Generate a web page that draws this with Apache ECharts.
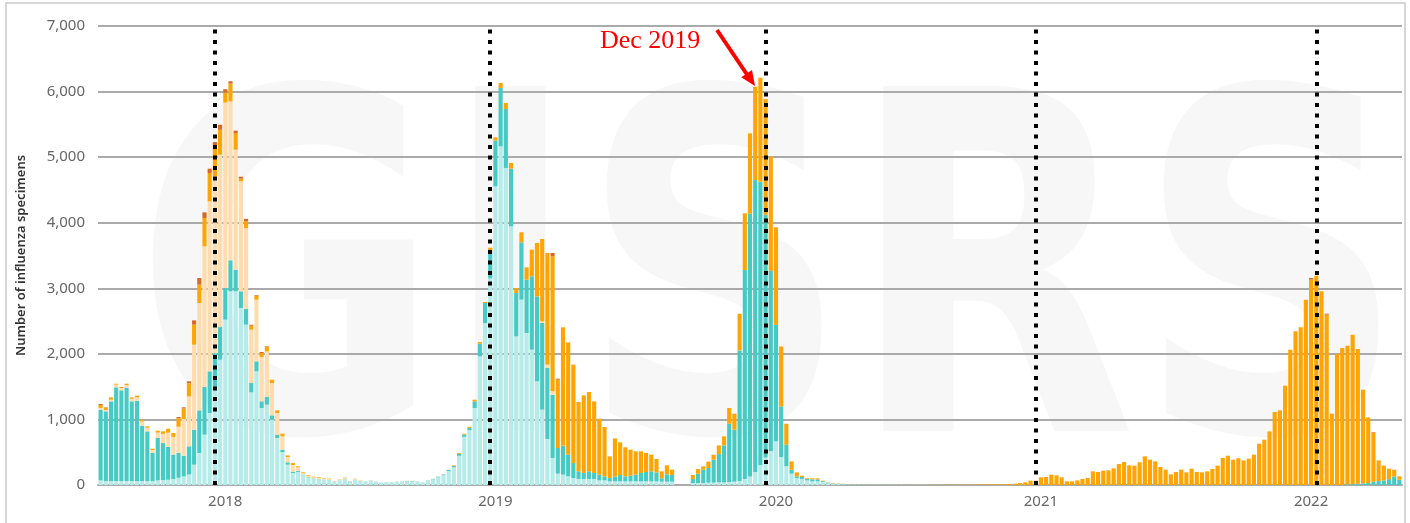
<!DOCTYPE html>
<html>
<head>
<meta charset="utf-8">
<title>Number of influenza specimens</title>
<script src="https://cdn.jsdelivr.net/npm/echarts@6/dist/echarts.min.js"></script>
<style>
  html, body { margin: 0; padding: 0; background: #fff; }
  #main { width: 1410px; height: 523px; }
</style>
</head>
<body>
<div id="main"></div>
<script>
// weekly counts, first bar = 2017 week 29, 251 weeks
const lightCyan = [
  70, 60, 60, 60, 60, 60, 60, 60, 60, 60,
  60, 70, 75, 80, 90, 110, 130, 160, 310, 488,
  768, 1098, 1450, 1911, 2522, 2954, 2954, 2700, 2445, 1413,
  1734, 1174, 1225, 996, 717, 503, 310, 183, 200, 150,
  110, 95, 90, 78, 75, 50, 66, 85, 50, 76,
  58, 50, 62, 45, 36, 40, 40, 45, 50, 58,
  58, 50, 36, 63, 86, 118, 150, 212, 270, 445,
  735, 835, 1174, 1962, 2471, 3150, 4555, 5165, 4835, 3945,
  2267, 2827, 2318, 2064, 1581, 1149, 702, 412, 173, 158,
  132, 107, 92, 92, 92, 92, 71, 71, 56, 56,
  56, 56, 56, 56, 56, 56, 56, 56, 51, 51,
  51, null, null, null, 30, 30, 30, 35, 35, 40,
  40, 45, 50, 60, 90, 130, 200, 300, 420, 513,
  666, 427, 285, 173, 107, 92, 71, 56, 56, 46,
  30, 20, 15, 12, 10, 8, 8, 7, 6, 6,
  5, 5, 5, 5, 5, 4, 4, 4, 4, 3,
  3, 3, 3, 2, 2, 2, 2, 2, 2, 1,
  1, 1, 1, 0, 0, 0, 0, 0, 0, 0,
  0, 0, 0, 0, 0, 0, 0, 0, 0, 0,
  0, 0, 0, 0, 0, 0, 0, 0, 0, 0,
  0, 0, 0, 0, 0, 0, 0, 0, 0, 0,
  0, 0, 0, 0, 0, 0, 0, 0, 0, 0,
  0, 0, 0, 0, 0, 0, 0, 0, 0, 0,
  0, 0, 0, 0, 0, 0, 0, 0, 0, 0,
  0, 0, 0, 0, 0, 0, 0, 0, 0, 0,
  0
];

const teal = [
  1080, 1064, 1216, 1430, 1384, 1420, 1216, 1226, 845, 758,
  428, 647, 565, 500, 373, 378, 317, 430, 534, 651,
  727, 635, 560, 498, 483, 473, 330, 254, 239, 142,
  152, 102, 117, 66, 51, 36, 36, 20, 15, 10,
  8, 6, 5, 4, 4, 3, 4, 5, 3, 4,
  3, 3, 4, 3, 3, 3, 3, 3, 3, 4,
  4, 3, 3, 5, 7, 10, 12, 16, 20, 30,
  35, 35, 102, 193, 305, 420, 697, 890, 900, 880,
  661, 874, 813, 1119, 1296, 1322, 1083, 966, 391, 442,
  330, 229, 117, 92, 117, 92, 86, 61, 50, 70,
  97, 76, 86, 102, 127, 142, 153, 137, 51, 112,
  102, null, null, null, 61, 142, 203, 224, 351, 432,
  564, 890, 793, 1993, 3190, 4010, 4450, 4326, 3700, 2752,
  1776, 771, 329, 60, 25, 30, 20, 30, 30, 12,
  6, 5, 5, 4, 3, 3, 2, 2, 2, 2,
  2, 2, 2, 1, 1, 1, 1, 1, 1, 1,
  1, 1, 1, 1, 1, 1, 1, 1, 1, 1,
  1, 1, 1, 0, 0, 0, 0, 0, 0, 0,
  0, 0, 0, 0, 0, 0, 0, 0, 0, 0,
  0, 0, 0, 0, 0, 0, 0, 0, 0, 0,
  0, 0, 0, 0, 0, 0, 0, 0, 0, 0,
  0, 0, 0, 0, 0, 0, 0, 0, 0, 0,
  0, 0, 0, 0, 0, 0, 0, 0, 0, 0,
  0, 0, 0, 0, 0, 0, 0, 0, 0, 0,
  10, 15, 20, 25, 30, 50, 60, 70, 90, 130,
  80
];

const peach = [
  25, 20, 25, 40, 35, 45, 40, 50, 65, 55,
  45, 82, 140, 219, 270, 400, 560, 760, 1296, 1637,
  2145, 2593, 2700, 2628, 2827, 2425, 1830, 1678, 1235, 813,
  940, 676, 696, 493, 330, 203, 81, 102, 55, 28,
  25, 18, 17, 12, 12, 6, 12, 16, 6, 13,
  8, 3, 5, 3, 2, 3, 3, 3, 3, 4,
  4, 3, 2, 3, 4, 4, 6, 6, 0, 0,
  0, 0, 0, 0, 0, 0, 0, 0, 0, 0,
  0, 0, 0, 0, 0, 25, 51, 51, 0, 0,
  0, 0, 0, 0, 0, 0, 0, 0, 0, 0,
  0, 0, 0, 0, 0, 0, 0, 0, 0, 0,
  0, null, null, null, 0, 0, 0, 0, 0, 0,
  0, 0, 0, 0, 0, 0, 0, 0, 0, 0,
  0, 0, 0, 0, 0, 0, 0, 0, 0, 0,
  0, 0, 0, 0, 0, 0, 0, 0, 0, 0,
  0, 0, 0, 0, 0, 0, 0, 0, 0, 0,
  0, 0, 0, 0, 0, 0, 0, 0, 0, 0,
  0, 0, 0, 0, 0, 0, 0, 0, 0, 0,
  0, 0, 0, 0, 0, 0, 0, 0, 0, 0,
  0, 0, 0, 0, 0, 0, 0, 0, 0, 0,
  0, 0, 0, 0, 0, 0, 0, 0, 0, 0,
  0, 0, 0, 0, 0, 0, 0, 0, 0, 0,
  0, 0, 0, 0, 0, 0, 0, 0, 0, 0,
  0, 0, 0, 0, 0, 0, 0, 0, 0, 0,
  0, 0, 0, 0, 0, 0, 0, 0, 0, 0,
  0
];

const orange = [
  45, 35, 36, 15, 16, 20, 21, 26, 26, 22,
  21, 30, 39, 60, 60, 129, 160, 200, 305, 280,
  432, 432, 450, 381, 153, 270, 254, 40, 100, 61,
  61, 61, 66, 51, 41, 41, 25, 30, 15, 10,
  10, 8, 10, 8, 6, 2, 4, 6, 2, 4,
  2, 0, 0, 0, 0, 0, 0, 0, 0, 0,
  0, 0, 0, 0, 0, 0, 0, 0, 10, 13,
  13, 15, 25, 25, 15, 50, 51, 76, 92, 86,
  76, 153, 188, 407, 813, 1256, 1703, 2059, 1042, 1805,
  1713, 1500, 1057, 1184, 1209, 1092, 854, 753, 331, 585,
  498, 443, 397, 356, 331, 290, 254, 204, 106, 137,
  81, null, null, null, 61, 71, 51, 97, 76, 132,
  137, 239, 244, 559, 864, 1223, 1423, 1585, 1766, 1743,
  1489, 914, 320, 127, 61, 20, 11, 16, 16, 8,
  5, 5, 3, 3, 2, 2, 2, 2, 2, 2,
  2, 2, 2, 2, 2, 2, 2, 2, 2, 2,
  3, 3, 3, 4, 4, 5, 5, 6, 6, 8,
  8, 10, 10, 10, 12, 15, 20, 30, 41, 66,
  66, 117, 122, 158, 147, 117, 56, 56, 71, 92,
  107, 208, 198, 219, 224, 254, 320, 351, 300, 295,
  346, 437, 386, 361, 275, 234, 163, 198, 234, 193,
  249, 198, 193, 208, 244, 295, 412, 447, 386, 407,
  376, 402, 463, 630, 691, 818, 1113, 1139, 1515, 2064,
  2344, 2405, 2827, 3132, 3190, 2954, 2598, 1088, 1998, 2090,
  2115, 2278, 2054, 1429, 1002, 743, 316, 225, 159, 104,
  52
];

const brown = [
  15, 6, 0, 0, 0, 0, 0, 0, 0, 0,
  0, 0, 0, 0, 0, 20, 18, 31, 66, 100,
  86, 66, 70, 76, 51, 36, 36, 30, 40, 15,
  10, 15, 10, 0, 0, 0, 0, 0, 0, 0,
  0, 0, 0, 0, 0, 0, 0, 0, 0, 0,
  0, 0, 0, 0, 0, 0, 0, 0, 0, 0,
  0, 0, 0, 0, 0, 0, 0, 0, 0, 0,
  0, 0, 0, 0, 0, 0, 0, 0, 0, 0,
  0, 0, 0, 0, 0, 0, 0, 51, 15, 0,
  0, 0, 0, 0, 0, 0, 0, 0, 0, 0,
  0, 0, 0, 0, 0, 0, 0, 0, 0, 0,
  0, null, null, null, 0, 0, 0, 0, 0, 0,
  0, 0, 0, 0, 0, 0, 0, 0, 0, 0,
  0, 0, 0, 0, 0, 0, 0, 0, 0, 0,
  0, 0, 0, 0, 0, 0, 0, 0, 0, 0,
  0, 0, 0, 0, 0, 0, 0, 0, 0, 0,
  0, 0, 0, 0, 0, 0, 0, 0, 0, 0,
  0, 0, 0, 0, 0, 0, 0, 0, 0, 0,
  0, 0, 0, 0, 0, 0, 0, 0, 0, 0,
  0, 0, 0, 0, 0, 0, 0, 0, 0, 0,
  0, 0, 0, 0, 0, 0, 0, 0, 0, 0,
  0, 0, 0, 0, 0, 0, 0, 0, 0, 0,
  0, 0, 0, 0, 0, 0, 0, 0, 0, 0,
  0, 0, 0, 25, 0, 0, 15, 0, 0, 0,
  0, 0, 0, 0, 0, 10, 0, 0, 0, 0,
  0
];

// x axis: year labels and the dotted year markers (bar index)
const yearLabels = ['2018', '2019', '2020', '2021', '2022'];
const yearLabelIdx = [24, 76, 130, 181, 233];
const yearMarkIdx = [22, 75, 128, 180, 234];
const yTicks = [0, 1000, 2000, 3000, 4000, 5000, 6000, 7000];

// week names, 2020 has 53 ISO weeks
const weeksInYear = { 2017: 52, 2018: 52, 2019: 52, 2020: 53, 2021: 52, 2022: 52 };
const weeks = [];
let yr = 2017, wk = 29;
while (weeks.length < lightCyan.length) {
  weeks.push(yr + '-W' + (wk < 10 ? '0' + wk : wk));
  wk++;
  if (wk > weeksInYear[yr]) { yr++; wk = 1; }
}

const chart = echarts.init(document.getElementById('main'));

function barSeries (name, data, color) {
  return {
    name: name,
    type: 'bar',
    stack: 'total',
    data: data,
    barCategoryGap: '20%',
    itemStyle: { color: color },
    emphasis: { disabled: true }
  };
}

const series = [
  barSeries('B (Yamagata lineage)', lightCyan, '#b5ece9'),
  barSeries('B (Victoria lineage)', teal, '#47cac4'),
  barSeries('A(H1N1)pdm09', peach, '#ffdcae'),
  barSeries('A (not subtyped)', orange, '#ffa503'),
  barSeries('A(H3)', brown, '#d4692a')
];

series[4].markLine = {
  silent: true,
  symbol: ['none', 'none'],
  label: { show: false },
  lineStyle: { color: '#000', width: 4, type: [4, 6.5], cap: 'butt' },
  emphasis: { disabled: true },
  data: yearMarkIdx.map(i => ({ xAxis: weeks[i] }))
};

chart.setOption({
  animation: false,
  backgroundColor: '#fff',
  textStyle: { fontFamily: '"Noto Sans", sans-serif' },
  grid: { left: 98, right: 8, top: 26, bottom: 38, containLabel: false },
  xAxis: {
    type: 'category',
    data: weeks,
    axisTick: { show: false },
    axisLine: { show: true, lineStyle: { color: '#aaaaaa', width: 2 } },
    axisLabel: {
      color: '#666',
      fontSize: 15,
      margin: 9,
      interval: (i) => yearLabelIdx.indexOf(i) >= 0,
      formatter: (v, i) => yearLabels[yearLabelIdx.indexOf(i)] || ''
    },
    splitLine: { show: false }
  },
  yAxis: {
    type: 'value',
    min: yTicks[0],
    max: yTicks[yTicks.length - 1],
    interval: 1000,
    name: 'Number of influenza specimens',
    nameLocation: 'middle',
    nameGap: 70,
    nameTextStyle: { color: '#333', fontSize: 13, fontWeight: 600 },
    axisLine: { show: false },
    axisTick: { show: false },
    axisLabel: {
      color: '#666',
      fontSize: 15,
      margin: 13,
      formatter: v => v.toLocaleString('en-US')
    },
    splitLine: { lineStyle: { color: '#aaaaaa', width: 2 } }
  },
  graphic: [
    {
      // faint GISRS watermark behind the bars
      type: 'text',
      silent: true,
      z: -10,
      x: 770,
      y: 308,
      scaleX: 0.79,
      style: {
        text: 'GISRS',
        font: 'bold 473px "DejaVu Sans"',
        fill: '#f7f7f7',
        textAlign: 'center',
        textVerticalAlign: 'middle'
      }
    },
    {
      type: 'rect',
      silent: true,
      shape: { x: 6, y: 3, width: 1399, height: 540 },
      style: { fill: 'none', stroke: '#c9c9c9', lineWidth: 1.5 }
    },
    {
      type: 'text',
      z: 100,
      x: 600,
      y: 41,
      style: {
        text: 'Dec 2019',
        font: '26px "Liberation Serif"',
        fill: '#ff0000',
        textVerticalAlign: 'middle'
      }
    },
    {
      type: 'line',
      z: 100,
      shape: { x1: 717, y1: 30, x2: 748, y2: 76 },
      style: { stroke: '#ff0000', lineWidth: 4 }
    },
    {
      type: 'polygon',
      z: 100,
      shape: { points: [[755, 86], [741.2, 77.2], [752, 70]] },
      style: { fill: '#ff0000' }
    }
  ],
  series: series
});
</script>
</body>
</html>
